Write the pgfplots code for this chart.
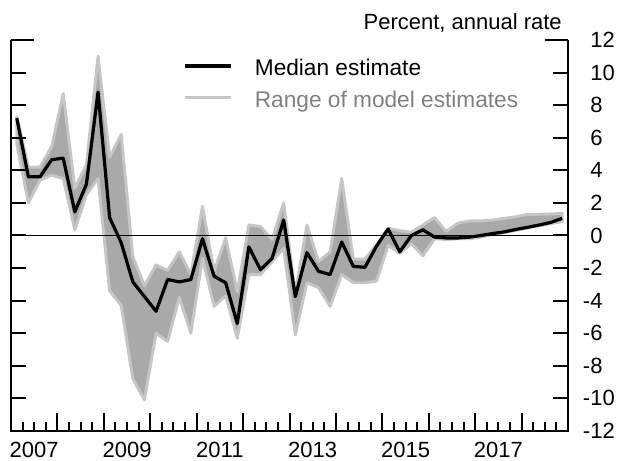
\documentclass[border=0pt]{standalone}
\usepackage{pgfplots}
\pgfplotsset{compat=1.18}
\usepackage{fontspec}
\setmainfont{Liberation Sans}
\definecolor{bandfill}{HTML}{A9A9A9}
\definecolor{bandedge}{HTML}{C6C6C6}
\definecolor{legtext}{HTML}{808080}

\begin{document}
\begin{tikzpicture}
\pgfplotsset{
  base/.style={
    scale only axis, width=417.75pt, height=293.25pt,
    xmin=2007, xmax=2019, ymin=-12, ymax=12,
    axis line style={draw=none},
    tick style={black, line width=1.5pt},
    tick align=inside,
    font=\fontsize{16.5}{19.8}\selectfont,
    /pgf/number format/assume math mode=true,
  }
}
% main axis: data and legend
\begin{axis}[base, clip=false,
  xtick=\empty, ytick=\empty,
  legend style={at={(rel axis cs:0.3088,0.9591)}, anchor=north west,
    draw=none, fill=none, inner sep=0pt, outer sep=0pt,
    row sep=8.5pt, column sep=17pt,
    font=\fontsize{17}{20}\selectfont,
    nodes={inner sep=0pt, text height=15pt, text depth=0pt}},
  legend cell align=left,
  legend image code/.code={\draw[#1] (0pt,0pt) -- (34.5pt,0pt);},
]
\addplot[fill=bandfill, draw=bandedge, line width=2.2pt, line join=round, forget plot] coordinates {
(2007.125,7.3) (2007.375,4.2) (2007.625,4.2) (2007.875,5.45) (2008.125,8.7)
(2008.375,2.9) (2008.625,4.35) (2008.875,11.0) (2009.125,4.8) (2009.375,6.2)
(2009.625,-1.3) (2009.875,-3.1) (2010.125,-1.8) (2010.375,-2.15) (2010.625,-1.0)
(2010.875,-2.4) (2011.125,1.8) (2011.375,-2.2) (2011.625,-0.15) (2011.875,-3.45)
(2012.125,0.65) (2012.375,0.55) (2012.625,-0.25) (2012.875,2.0) (2013.125,-3.55)
(2013.375,0.65) (2013.625,-1.6) (2013.875,-1.0) (2014.125,3.5) (2014.375,-1.45)
(2014.625,-1.45) (2014.875,-0.55) (2015.125,0.45) (2015.375,0.3) (2015.625,0.2)
(2015.875,0.65) (2016.125,1.1) (2016.375,0.25) (2016.625,0.75) (2016.875,0.9)
(2017.125,0.9) (2017.375,0.95) (2017.625,1.05) (2017.875,1.15) (2018.125,1.3)
(2018.375,1.3) (2018.625,1.32) (2018.875,1.36)
(2018.875,0.85) (2018.625,0.73) (2018.375,0.6) (2018.125,0.47) (2017.875,0.32)
(2017.625,0.18) (2017.375,0.05) (2017.125,-0.1) (2016.875,-0.2) (2016.625,-0.2)
(2016.375,-0.25) (2016.125,-0.2) (2015.875,-1.25) (2015.625,-0.5) (2015.375,-1.1)
(2015.125,-0.6) (2014.875,-2.8) (2014.625,-2.9) (2014.375,-2.9) (2014.125,-2.4)
(2013.875,-4.35) (2013.625,-3.2) (2013.375,-2.9) (2013.125,-6.1) (2012.875,-0.8)
(2012.625,-1.6) (2012.375,-2.4) (2012.125,-2.4) (2011.875,-6.3) (2011.625,-3.7)
(2011.375,-4.35) (2011.125,-1.4) (2010.875,-6.0) (2010.625,-3.8) (2010.375,-6.5)
(2010.125,-6.0) (2009.875,-10.1) (2009.625,-8.8) (2009.375,-4.3) (2009.125,-3.4)
(2008.875,3.5) (2008.625,2.5) (2008.375,0.35) (2008.125,3.5) (2007.875,3.7)
(2007.625,3.4) (2007.375,2.0) (2007.125,5.6)
} -- cycle;
\addplot[black, line width=0.8pt, forget plot] coordinates {(2007,0) (2019,0)};
\addplot[black, line width=2.4pt, line join=round, forget plot] coordinates {
(2007.125,7.2) (2007.375,3.6) (2007.625,3.6) (2007.875,4.65) (2008.125,4.75)
(2008.375,1.45) (2008.625,3.15) (2008.875,8.8) (2009.125,1.1) (2009.375,-0.45)
(2009.625,-2.85) (2009.875,-3.75) (2010.125,-4.65) (2010.375,-2.7) (2010.625,-2.85)
(2010.875,-2.7) (2011.125,-0.2) (2011.375,-2.5) (2011.625,-2.9) (2011.875,-5.4)
(2012.125,-0.7) (2012.375,-2.1) (2012.625,-1.4) (2012.875,0.95) (2013.125,-3.75)
(2013.375,-1.05) (2013.625,-2.2) (2013.875,-2.4) (2014.125,-0.4) (2014.375,-1.9)
(2014.625,-1.95) (2014.875,-0.65) (2015.125,0.4) (2015.375,-1.0) (2015.625,0.0)
(2015.875,0.35) (2016.125,-0.1) (2016.375,-0.15) (2016.625,-0.15) (2016.875,-0.1)
(2017.125,0.0) (2017.375,0.12) (2017.625,0.22) (2017.875,0.37) (2018.125,0.5)
(2018.375,0.64) (2018.625,0.8) (2018.875,1.05)
};
\addlegendimage{black, line width=2.4pt}
\addlegendentry{Median estimate}
\addlegendimage{draw=bandedge, line width=2.2pt}
\addlegendentry{\textcolor{legtext}{Range of model estimates}}
\draw[black, line width=1.5pt] (rel axis cs:0,1) -- (rel axis cs:0,0) -- (rel axis cs:1,0) -- (rel axis cs:1,1);
\node[anchor=base east, inner sep=0pt, font=\fontsize{16.5}{19.8}\selectfont]
  at ([xshift=-4.5pt, yshift=7.5pt]rel axis cs:1,1) {Percent, annual rate};
\end{axis}
% x ticks (years and quarters), bottom only
\begin{axis}[base,
  axis x line=bottom, axis y line=none,
  axis line style={draw=none},
  ytick=\empty,
  xtick={2007,2008,2009,2010,2011,2012,2013,2014,2015,2016,2017,2018,2019},
  xticklabels={,,,,,,,,,,,,},
  minor xtick={2007.25,2007.5,2007.75,2008.25,2008.5,2008.75,2009.25,2009.5,2009.75,
    2010.25,2010.5,2010.75,2011.25,2011.5,2011.75,2012.25,2012.5,2012.75,
    2013.25,2013.5,2013.75,2014.25,2014.5,2014.75,2015.25,2015.5,2015.75,
    2016.25,2016.5,2016.75,2017.25,2017.5,2017.75,2018.25,2018.5,2018.75},
  tick align=inside,
  x tick style={black, line width=1.5pt},
  major tick length=13.5pt, minor tick length=6.75pt,
]
\end{axis}
% y ticks and labels
\begin{axis}[base,
  xtick=\empty,
  ytick={-12,-10,...,12},
  yticklabels={\llap{-}12,\llap{-}10,\llap{-}8,\llap{-}6,\llap{-}4,\llap{-}2,0,2,4,6,8,10,12},
  ytick pos=both, yticklabel pos=right,
  major tick length=11pt,
  yticklabel style={anchor=west, inner sep=0pt, xshift=16.5pt},
]
\end{axis}
% long tick at 12
\begin{axis}[base,
  xtick=\empty, ytick={12}, yticklabels={},
  ytick pos=both, major tick length=17.25pt,
]
\end{axis}
% x labels
\begin{axis}[base,
  ytick=\empty,
  xtick={2007.5,2009.5,2011.5,2013.5,2015.5,2017.5},
  xticklabels={2007,2009,2011,2013,2015,2017},
  xtick pos=left, major tick length=0pt,
  xticklabel style={anchor=north, inner sep=0pt, yshift=-8.25pt},
]
\end{axis}
\pgfresetboundingbox
\path[use as bounding box] (-8.25pt,-21.75pt) rectangle (459.75pt,323.25pt);
\end{tikzpicture}
\end{document}
